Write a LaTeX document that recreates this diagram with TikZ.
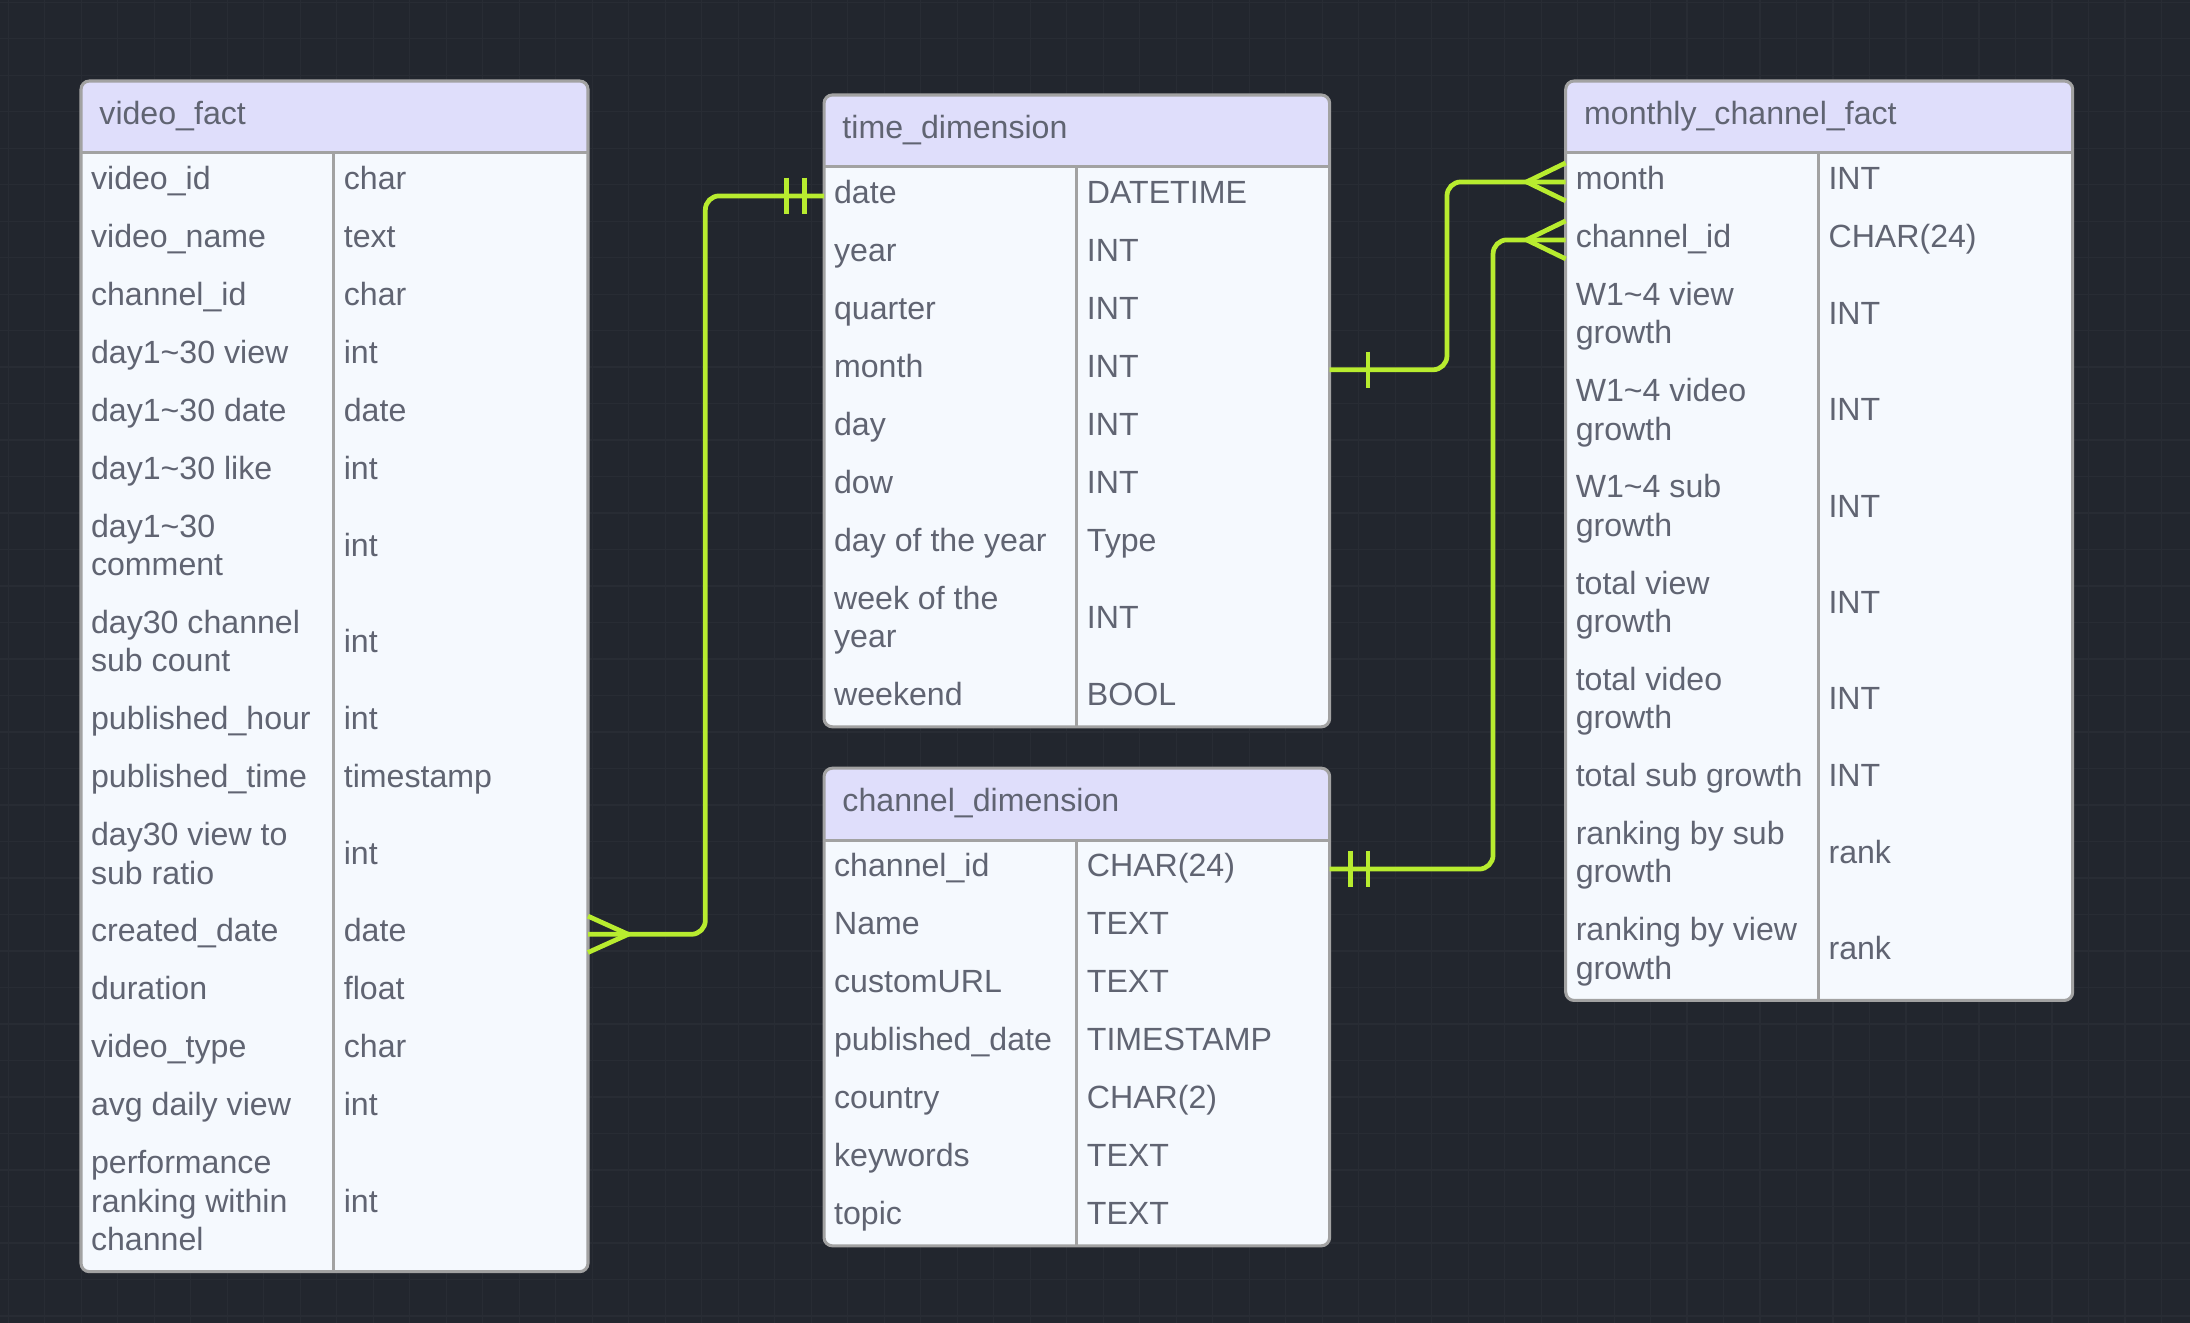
\documentclass[tikz,border=0pt]{standalone}
\usepackage{fontspec}
\setmainfont{Liberation Sans}
\definecolor{bgc}{HTML}{22262E}
\definecolor{gridc}{HTML}{282C34}
\definecolor{headc}{HTML}{DFDEFB}
\definecolor{bodyc}{HTML}{F5F9FE}
\definecolor{borderc}{HTML}{A2A2A2}
\definecolor{txtc}{HTML}{606472}
\definecolor{linkc}{HTML}{B8EC2F}
\newcommand\erfont{\fontsize{23}{27.4}\selectfont}
\newcommand\erbr{\strut\\\strut}
\tikzset{
  border/.style={draw=borderc, line width=2.2pt},
  rowbox/.style={rectangle, inner sep=0pt, outer sep=0pt},
  celltext/.style={anchor=west, inner sep=0pt, align=left, font=\erfont, text=txtc},
  titletext/.style={anchor=west, inner sep=0pt, font=\erfont, text=txtc},
  conn/.style={draw=linkc, line width=3.4pt},
}
% \ertable{id}{title}{x left}{x divider}{x right}{y top}{name/type/lines,...}
\newcommand\ertable[7]{%
  \pgfmathsetmacro\erhb{#6+51.5}%
  \xdef\erbot{\erhb}%
  \foreach \ernm/\erty/\ernl in {#7}{%
    \pgfmathsetmacro\ertmp{\erbot+41.5+27.4*(\ernl-1)}%
    \xdef\erbot{\ertmp}}%
  \begin{scope}
    \clip[rounded corners=6pt] (#3,#6) rectangle (#5,\erbot);
    \fill[bodyc] (#3,#6) rectangle (#5,\erbot);
    \fill[headc] (#3,#6) rectangle (#5,\erhb);
  \end{scope}
  \node[titletext] (#1) at (#3+13,#6+25.75) {\strut #2};
  \xdef\ercur{\erhb}%
  \foreach \ernm/\erty/\ernl [count=\eri] in {#7}{%
    \pgfmathsetmacro\errh{41.5+27.4*(\ernl-1)}%
    \pgfmathsetmacro\ermid{\ercur+\errh/2}%
    \node[rowbox, minimum width={#5-#3}, minimum height=\errh] (#1-\eri) at ({(#3+#5)/2},\ermid) {};
    \node[celltext] at (#3+7,\ermid) {\strut\ernm\strut};
    \node[celltext] at (#4+7,\ermid) {\strut\erty\strut};
    \pgfmathsetmacro\ertmp{\ercur+\errh}%
    \xdef\ercur{\ertmp}}%
  \draw[border] (#3,\erhb) -- (#5,\erhb);
  \draw[border] (#4,\erhb) -- (#4,\erbot);
  \draw[border, rounded corners=6pt] (#3,#6) rectangle (#5,\erbot);
}
\begin{document}
\begin{tikzpicture}[x=1pt,y=-1pt]
  \fill[bgc] (0,0) rectangle (1568,947);
  \useasboundingbox (0,0) rectangle (1568,947);
  % background grid
  \foreach \gx in {5.9,32.03,...,1568} \draw[gridc, line width=0.8pt] (\gx,0) -- (\gx,947);
  \foreach \gy in {1.5,27.63,...,947} \draw[gridc, line width=0.8pt] (0,\gy) -- (1568,\gy);

  \ertable{vf}{video\_fact}{58}{239}{421}{58}{
    video\_id/char/1,
    video\_name/text/1,
    channel\_id/char/1,
    {day1\textasciitilde 30 view}/int/1,
    {day1\textasciitilde 30 date}/date/1,
    {day1\textasciitilde 30 like}/int/1,
    {day1\textasciitilde 30\erbr comment}/int/2,
    {day30 channel\erbr sub count}/int/2,
    published\_hour/int/1,
    published\_time/timestamp/1,
    {day30 view to\erbr sub ratio}/int/2,
    created\_date/date/1,
    duration/float/1,
    video\_type/char/1,
    {avg daily view}/int/1,
    {performance\erbr ranking within\erbr channel}/int/3}

  \ertable{td}{time\_dimension}{590}{771}{952}{68}{
    date/DATETIME/1,
    year/INT/1,
    quarter/INT/1,
    month/INT/1,
    day/INT/1,
    dow/INT/1,
    {day of the year}/Type/1,
    {week of the\erbr year}/INT/2,
    weekend/BOOL/1}

  \ertable{cd}{channel\_dimension}{590}{771}{952}{550}{
    channel\_id/CHAR(24)/1,
    Name/TEXT/1,
    customURL/TEXT/1,
    published\_date/TIMESTAMP/1,
    country/CHAR(2)/1,
    keywords/TEXT/1,
    topic/TEXT/1}

  \ertable{mc}{monthly\_channel\_fact}{1121}{1302}{1484}{58}{
    month/INT/1,
    channel\_id/CHAR(24)/1,
    {W1\textasciitilde 4 view\erbr growth}/INT/2,
    {W1\textasciitilde 4 video\erbr growth}/INT/2,
    {W1\textasciitilde 4 sub\erbr growth}/INT/2,
    {total view\erbr growth}/INT/2,
    {total video\erbr growth}/INT/2,
    {total sub growth}/INT/1,
    {ranking by sub\erbr growth}/rank/2,
    {ranking by view\erbr growth}/rank/2}

  % bend columns of the relationship lines
  \coordinate (j1) at (505,0);
  \coordinate (j2) at (1036,0);
  \coordinate (j3) at (1069,0);

  % video_fact.created_date }o--|| time_dimension.date
  \draw[conn, rounded corners=10pt] (vf-12.east) -- (vf-12.east -| j1) -- (td-1.west -| j1) -- (td-1.west);
  \draw[conn] ([yshift=13pt]vf-12.east) -- ([xshift=28.8pt]vf-12.east) -- ([yshift=-13pt]vf-12.east);
  \draw[conn] ([xshift=-14pt,yshift=13pt]td-1.west) -- ([xshift=-14pt,yshift=-13pt]td-1.west);
  \draw[conn] ([xshift=-27pt,yshift=13pt]td-1.west) -- ([xshift=-27pt,yshift=-13pt]td-1.west);

  % time_dimension.month |--{ monthly_channel_fact.month
  \draw[conn, rounded corners=10pt] (td-4.east) -- (td-4.east -| j2) -- (mc-1.west -| j2) -- (mc-1.west);
  \draw[conn] ([xshift=27.5pt,yshift=13pt]td-4.east) -- ([xshift=27.5pt,yshift=-13pt]td-4.east);
  \draw[conn] ([yshift=13.6pt]mc-1.west) -- ([xshift=-28pt]mc-1.west) -- ([yshift=-13.6pt]mc-1.west);

  % channel_dimension.channel_id ||--{ monthly_channel_fact.channel_id
  \draw[conn, rounded corners=10pt] (cd-1.east) -- (cd-1.east -| j3) -- (mc-2.west -| j3) -- (mc-2.west);
  \draw[conn] ([xshift=14.8pt,yshift=13pt]cd-1.east) -- ([xshift=14.8pt,yshift=-13pt]cd-1.east);
  \draw[conn] ([xshift=27.5pt,yshift=13pt]cd-1.east) -- ([xshift=27.5pt,yshift=-13pt]cd-1.east);
  \draw[conn] ([yshift=13.6pt]mc-2.west) -- ([xshift=-28pt]mc-2.west) -- ([yshift=-13.6pt]mc-2.west);
\end{tikzpicture}
\end{document}
